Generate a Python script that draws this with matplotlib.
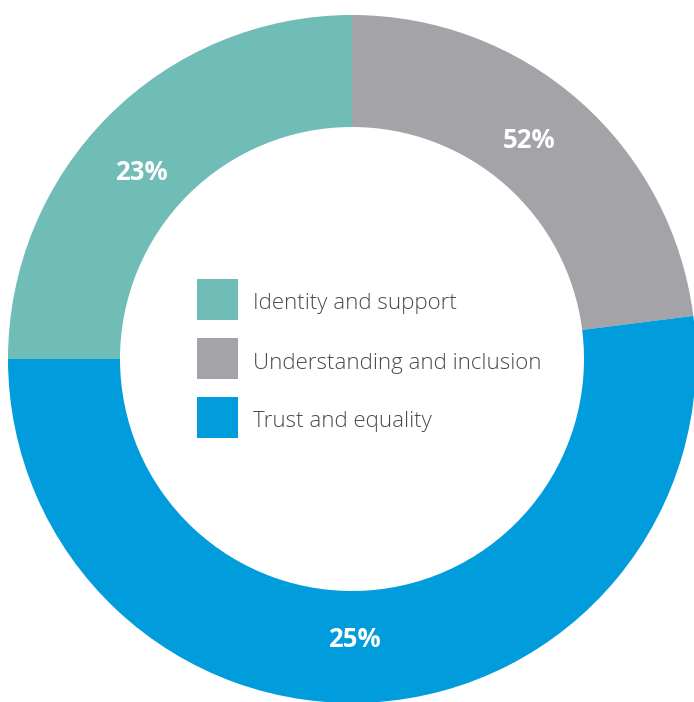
import numpy as np
import matplotlib.pyplot as plt
from matplotlib.patches import Rectangle

categories = ["Identity and support", "Understanding and inclusion", "Trust and equality"]
shares = [25, 23, 52]
pct_labels = ["23%", "52%", "25%"]
label_angles = [138.5, 51, 270.5]
colors = ["#70bcb6", "#a4a4a8", "#009cdc"]

fig = plt.figure(figsize=(6.94, 7.02), dpi=100)
ax = fig.add_axes([0, 0, 1, 1])

cx, cy = 352, 343
r_out, r_in = 344, 232

ax.pie(shares, colors=colors, startangle=180, counterclock=False,
       center=(cx, cy), radius=r_out,
       wedgeprops=dict(width=r_out - r_in, linewidth=0))

# percentage text inside the ring
r_lab = 281
for ang, txt in zip(label_angles, pct_labels):
    a = np.deg2rad(ang)
    ax.text(cx + r_lab * np.cos(a), cy + r_lab * np.sin(a), txt,
            ha="center", va="center", color="white", fontsize=18.5,
            fontweight="bold", family="Open Sans")

# legend in the hole
for i, (name, col) in enumerate(zip(categories, colors)):
    top = 702 - 279 - i * 59
    ax.add_patch(Rectangle((197, top - 41), 41, 41, color=col, linewidth=0))
    ax.text(253, top - 25, name, ha="left", va="center", fontsize=16,
            color="#4a4a4c", family="Open Sans", fontweight="light")

ax.set_xlim(0, 694)
ax.set_ylim(0, 702)
ax.set_aspect("auto")
ax.axis("off")

fig.savefig("out.png", dpi=100)
